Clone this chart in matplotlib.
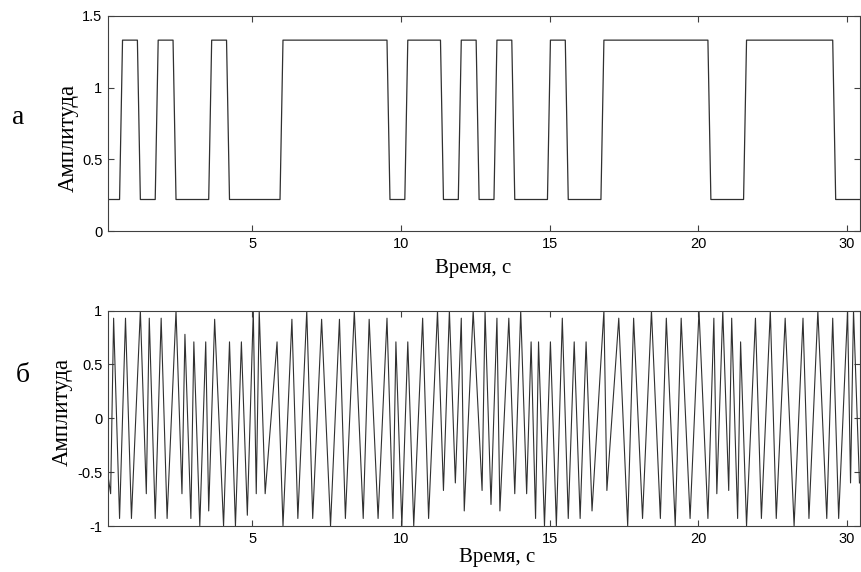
import numpy as np
import matplotlib.pyplot as plt

plt.rcParams['axes.unicode_minus'] = False

# (а) binary signal, 0.6 s per bit
bits = [0, 1, 0, 1, 0, 0, 1, 0, 0, 0, 1, 1, 1, 1, 1, 1, 0, 1, 1, 0, 1, 0,
        1, 0, 0, 1, 0, 0, 1, 1, 1, 1, 1, 1, 0, 0, 1, 1, 1, 1, 1, 0, 0]
bit_start = -0.07
bit_len = 0.6
ramp = 0.1
levels = [0.22, 1.33]

# (б) modulated signal: successive peaks and troughs
wave_t = [0.15, 0.23, 0.33, 0.53, 0.73, 0.93, 1.23, 1.43, 1.53, 1.73,
          1.93, 2.13, 2.43, 2.63, 2.73, 2.93, 3.03, 3.23, 3.43, 3.53,
          3.73, 4.03, 4.23, 4.43, 4.63, 4.83, 5.03, 5.13, 5.23, 5.43,
          5.83, 6.03, 6.33, 6.53, 6.83, 7.03, 7.33, 7.63, 7.93, 8.13,
          8.43, 8.73, 8.93, 9.23, 9.53, 9.73, 9.83, 10.03, 10.23, 10.43,
          10.73, 10.93, 11.23, 11.43, 11.63, 11.83, 12.03, 12.13, 12.43, 12.73,
          12.83, 13.03, 13.23, 13.33, 13.63, 13.83, 14.03, 14.23, 14.38, 14.53,
          14.63, 14.83, 15.03, 15.23, 15.43, 15.63, 15.83, 16.03, 16.23, 16.43,
          16.83, 16.93, 17.33, 17.63, 17.83, 18.13, 18.43, 18.73, 18.93, 19.23,
          19.43, 19.73, 20.03, 20.33, 20.53, 20.63, 20.83, 21.03, 21.13, 21.33,
          21.43, 21.63, 21.93, 22.13, 22.43, 22.63, 22.93, 23.23, 23.53, 23.73,
          24.03, 24.33, 24.53, 24.73, 25.03, 25.13, 25.23, 25.43]
wave_y = [-0.55, -0.70, 0.93, -0.93, 0.93, -0.93, 1.00, -0.70, 0.93, -0.93,
          0.93, -0.93, 1.00, -0.70, 0.78, -0.93, 0.71, -1.00, 0.71, -0.86,
          0.92, -1.00, 0.71, -1.00, 0.71, -0.90, 1.00, -0.70, 1.00, -0.70,
          0.71, -1.00, 0.92, -0.93, 1.00, -0.93, 0.92, -1.00, 0.92, -0.93,
          1.00, -0.93, 0.92, -0.93, 0.93, -0.93, 0.71, -1.00, 0.71, -1.00,
          0.93, -0.93, 1.00, -0.67, 1.00, -0.60, 0.93, -0.86, 1.00, -0.67,
          1.00, -0.80, 0.93, -0.86, 0.93, -0.70, 1.00, -0.70, 0.71, -0.93,
          0.71, -1.00, 0.71, -1.00, 0.93, -0.93, 0.71, -0.93, 0.71, -0.86,
          1.00, -0.67, 0.93, -1.00, 0.93, -0.93, 1.00, -0.93, 0.93, -1.00,
          0.93, -0.93, 1.00, -0.93, 0.93, -0.70, 1.00, -0.67, 0.93, -0.93,
          0.71, -1.00, 0.93, -0.93, 1.00, -0.93, 0.93, -1.00, 0.93, -0.93,
          1.00, -0.93, 0.93, -0.93, 1.00, -0.60, 1.00, -0.60]

xlim = (0.14, 25.45)
xticks = [5, 10, 15, 20, 25]
xticklabels = ['5', '10', '15', '20', '30']

# build the trapezoid shape of the bit signal
sig_t = [bit_start]
sig_y = [levels[bits[0]]]
for i in range(1, len(bits)):
    s = bit_start + i * bit_len
    if bits[i] != bits[i - 1]:
        sig_t += [s, s + ramp]
        sig_y += [levels[bits[i - 1]], levels[bits[i]]]
sig_t.append(bit_start + len(bits) * bit_len)
sig_y.append(levels[bits[-1]])

fig = plt.figure(figsize=(8.61, 5.72), dpi=100)
ax1 = fig.add_axes([0.1254, 0.596, 0.8735, 0.3765])
ax2 = fig.add_axes([0.1254, 0.0804, 0.8735, 0.3765])

ax1.plot(sig_t, sig_y, color='#303030', lw=0.9)
ax2.plot(wave_t, wave_y, color='#303030', lw=0.8)

ax1.set_ylim(0, 1.5)
ax1.set_yticks([0, 0.5, 1, 1.5])
ax1.set_yticklabels(['0', '0.5', '1', '1.5'])
ax2.set_ylim(-1, 1)
ax2.set_yticks([-1, -0.5, 0, 0.5, 1])
ax2.set_yticklabels(['-1', '-0.5', '0', '0.5', '1'])

# label positions (axes fraction) for each panel
ylab_pos = [(-0.053, 0.432), (-0.061, 0.529)]
xlab_pos = [(0.486, -0.172), (0.518, -0.144)]

for ax, yl, xl in zip((ax1, ax2), ylab_pos, xlab_pos):
    ax.set_xlim(*xlim)
    ax.set_xticks(xticks)
    ax.set_xticklabels(xticklabels)
    ax.tick_params(direction='in', top=True, right=True, length=4,
                   width=0.8, color='#404040', labelsize=10.5, pad=4)
    for lbl in ax.get_xticklabels() + ax.get_yticklabels():
        lbl.set_family('Liberation Sans')
    for sp in ax.spines.values():
        sp.set_color('#404040')
        sp.set_linewidth(0.8)
    ax.set_xlabel('Время, с', family='Liberation Serif', fontsize=15,
                  va='center')
    ax.xaxis.set_label_coords(*xl)
    ax.set_ylabel('Амплитуда', family='Liberation Serif', fontsize=16.5,
                  va='center')
    ax.yaxis.set_label_coords(*yl)

fig.text(18 / 861, 1 - 118 / 572, 'а', ha='center', va='center',
         family='Liberation Serif', fontsize=20)
fig.text(23 / 861, 1 - 375 / 572, 'б', ha='center', va='center',
         family='Liberation Serif', fontsize=20)

fig.savefig('out.png', dpi=100)
